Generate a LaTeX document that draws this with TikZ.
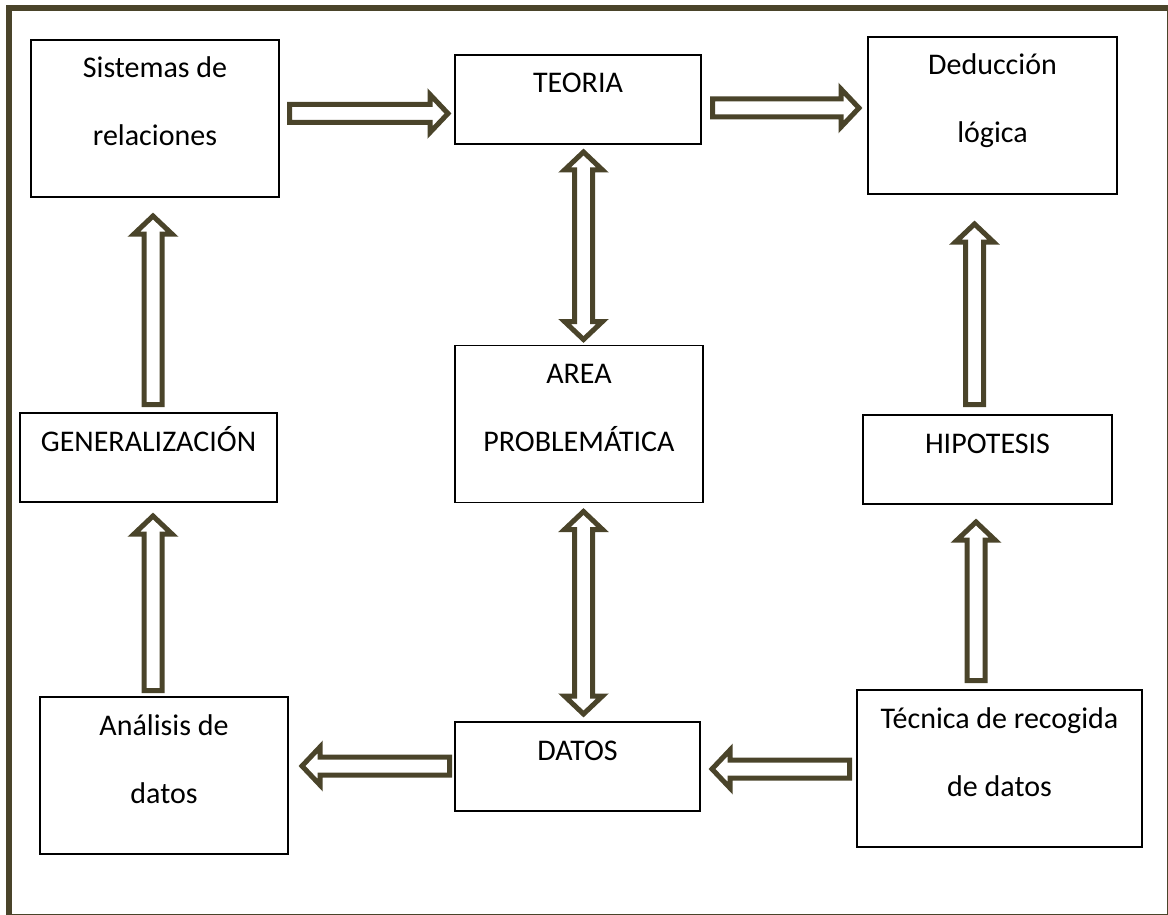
\documentclass[tikz,border=0pt]{standalone}
\usepackage{fontspec}
\setmainfont{Carlito}
\usetikzlibrary{calc}
\definecolor{olivar}{RGB}{74,68,42}
\tikzset{
  caja/.style={draw, line width=1.8pt, inner sep=0pt, outer sep=0pt, align=center,
    font=\fontsize{30}{68}\selectfont, text height=38pt, text depth=51pt},
  caja2/.style={caja, text height=106pt},
  flecha/.style={draw=olivar, line width=5pt, fill=white, line join=miter}
}
\newcommand{\flechabloque}[2]{%
  \coordinate (fs) at #1; \coordinate (fe) at #2;
  \coordinate (fh) at ($(fe)!18pt!(fs)$);
  \draw[flecha] ($(fs)!9pt!90:(fe)$) -- ($(fh)!9pt!90:(fe)$) -- ($(fh)!19pt!90:(fe)$) -- (fe)
    -- ($(fh)!19pt!-90:(fe)$) -- ($(fh)!9pt!-90:(fe)$) -- ($(fs)!9pt!-90:(fe)$) -- cycle;
}
\newcommand{\flechadoble}[2]{%
  \coordinate (fs) at #1; \coordinate (fe) at #2;
  \coordinate (fh) at ($(fe)!18pt!(fs)$);
  \coordinate (fg) at ($(fs)!18pt!(fe)$);
  \draw[flecha] (fs) -- ($(fg)!19pt!90:(fe)$) -- ($(fg)!9pt!90:(fe)$) -- ($(fh)!9pt!90:(fe)$)
    -- ($(fh)!19pt!90:(fe)$) -- (fe) -- ($(fh)!19pt!-90:(fe)$) -- ($(fh)!9pt!-90:(fe)$)
    -- ($(fg)!9pt!-90:(fe)$) -- ($(fg)!19pt!-90:(fe)$) -- cycle;
}
\begin{document}
\begin{tikzpicture}[x=1pt,y=-1pt]
      \useasboundingbox (0,0) rectangle (1168,915);
      \clip (0,0) rectangle (1168,915);
      \draw[olivar, line width=6pt] (8.5,8.5) rectangle (1169.5,916.5);
      \node[caja2, minimum width=248pt] (sist) at (155,118.5) {Sistemas de\\relaciones};
      \node[caja, minimum width=246pt] (teoria) at (578,99.5) {TEORIA};
      \node[caja2, minimum width=249pt] (dedu) at (992.5,115.5) {Deducción\\lógica};
      \node[caja2, minimum width=248pt] (area) at (579,424) {AREA\\PROBLEMÁTICA};
      \node[caja, minimum width=257pt] (gen) at (148.5,457.5) {GENERALIZACIÓN};
      \node[caja, minimum width=249pt] (hip) at (987.5,459.5) {HIPOTESIS};
      \node[caja2, minimum width=248pt] (anal) at (164,775.5) {Análisis de\\datos};
      \node[caja, minimum width=245pt] (datos) at (577.5,766.5) {DATOS};
      \node[caja2, minimum width=285pt] (tec) at (999.5,768.5) {Técnica de recogida\\de datos};
      \flechabloque{($(sist.east)+(10.5,-5)$)}{($(teoria.west)+(-7,14)$)}
      \flechabloque{($(teoria.east)+(11.5,8.5)$)}{($(dedu.west)+(-9,-7.5)$)}
      \flechadoble{($(teoria.south)+(5.5,8)$)}{($(area.north)+(4.5,-6)$)}
      \flechadoble{($(area.south)+(4.5,9)$)}{($(datos.north)+(6,-8)$)}
      \flechabloque{($(gen.north)+(4.5,-8.5)$)}{($(sist.south)+(-2,19)$)}
      \flechabloque{($(anal.north)+(-11,-6.5)$)}{($(gen.south)+(4.5,14)$)}
      \flechabloque{($(hip.north)+(-13,-10.5)$)}{($(dedu.south)+(-18,30)$)}
      \flechabloque{($(tec.north)+(-23.5,-9.5)$)}{($(hip.south)+(-11.5,18)$)}
      \flechabloque{($(datos.west)+(-5.5,-0.5)$)}{($(anal.east)+(14,-9.5)$)}
      \flechabloque{($(tec.west)+(-7.5,0.5)$)}{($(datos.east)+(12,2.5)$)}
    \end{tikzpicture}
\end{document}
